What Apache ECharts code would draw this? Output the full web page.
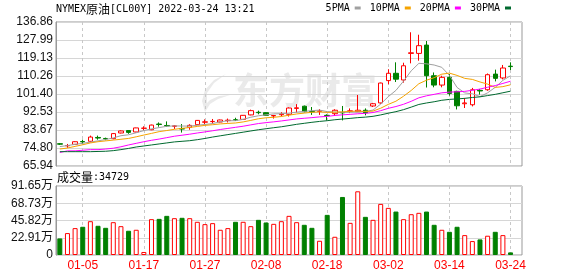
<!DOCTYPE html>
<html><head><meta charset="utf-8">
<script src="https://cdn.jsdelivr.net/npm/echarts@6/dist/echarts.min.js"></script>
<style>html,body{margin:0;padding:0;background:#fff}#c{width:578px;height:276px}</style>
</head><body><div id="c"></div>
<script>
const titleText = 'NYMEX原油[CL00Y] 2022-03-24 13:21';
const volLabel = '成交量:34729';
const dates = ['12-31','01-03','01-04','01-05','01-06','01-07','01-10','01-11','01-12','01-13',
'01-14','01-17','01-18','01-19','01-20','01-21','01-24','01-25','01-26','01-27',
'01-28','01-31','02-01','02-02','02-03','02-04','02-07','02-08','02-09','02-10',
'02-11','02-14','02-15','02-16','02-17','02-18','02-21','02-22','02-23','02-24',
'02-25','02-28','03-01','03-02','03-03','03-04','03-07','03-08','03-09','03-10',
'03-11','03-14','03-15','03-16','03-17','03-18','03-21','03-22','03-23','03-24'];
const tickDates = ['01-05','01-17','01-27','02-08','02-18','03-02','03-14','03-24'];
const opens = [76.9,75.9,76.6,78.0,78.1,80.0,79.5,79.4,82.2,83.4,
82.7,84.5,83.8,86.6,85.9,85.5,84.3,84.97,86.3,87.5,
87.8,87.6,88.3,88.7,88.9,91.1,92.4,92.2,90.6,91.2,
91.4,94.3,95.4,92.8,92.9,90.9,91.7,92.3,92.9,92.7,
93.4,95.5,97.0,108.0,111.6,108.3,121.4,121.4,125.5,110.4,
105.8,109.6,102.7,96.6,96.1,103.2,103.5,111.2,109.3,115.1];
const closes = [76.7,76.0,77.9,77.8,80.2,79.7,79.3,81.9,83.2,82.5,
84.7,84.6,86.1,86.4,85.7,85.7,84.2,85.96,88.4,87.7,
87.9,88.6,88.5,88.6,90.9,93.2,92.2,90.9,90.8,91.5,
94.5,94.6,92.7,92.6,93.0,90.7,93.4,92.1,93.1,93.4,
92.2,96.6,106.8,111.6,108.7,115.3,121.7,125.2,110.4,105.8,
109.6,101.7,95.6,97.0,103.5,102.9,110.9,109.1,114.2,114.9];
const highs = [77.2,76.8,78.1,78.9,80.9,80.9,79.9,82.2,83.5,83.5,
84.8,85.5,86.3,87.4,87.9,86.0,86.6,86.5,88.6,88.9,
89.1,88.8,89.3,89.7,91.0,93.7,93.2,92.4,91.1,92.4,
94.8,96.4,95.7,95.0,93.9,91.4,93.9,95.5,94.3,100.9,
94.3,97.0,107.0,113.6,117.0,116.8,131.8,130.6,127.5,112.0,
110.4,111.2,103.0,99.4,104.4,103.9,111.5,113.4,115.7,117.0];
const lows = [76.3,74.9,76.4,76.9,77.6,78.9,78.6,79.1,82.0,81.8,
82.5,83.5,83.6,85.3,85.3,84.2,82.4,83.8,86.1,86.6,
86.8,87.4,87.4,88.1,88.6,90.9,91.4,90.7,89.3,90.4,
90.3,92.3,92.4,91.1,91.1,88.4,90.6,88.4,92.0,92.5,
90.9,95.0,96.6,106.2,107.3,107.0,116.5,117.8,104.6,104.7,
104.7,100.6,93.8,94.5,95.3,101.1,103.0,107.6,108.6,113.2];
const volumes = [22.0,29.1,35.7,37.5,44.9,38.8,36.1,43.6,38.3,32.2,
33.5,4.0,47.6,48.0,52.0,48.9,49.4,48.9,44.1,41.0,
42.3,33.5,35.7,44.1,44.1,38.3,46.7,43.2,41.4,44.9,
52.0,43.6,40.1,36.1,18.9,53.3,24.2,77.1,42.7,84.6,
50.7,46.7,67.9,62.6,57.7,47.6,54.2,56.0,57.7,40.1,
33.5,30.8,37.5,26.4,18.5,20.7,25.6,30.8,26.4,3.47];
const ma5 = [75.5,76.0,76.6,77.1,77.72,78.32,78.98,79.78,80.86,81.32,
82.32,83.38,84.22,84.86,85.5,85.7,85.62,85.59,85.99,86.39,
86.83,87.71,88.22,88.26,88.9,89.96,90.68,91.16,91.6,91.72,
91.98,92.46,92.82,93.18,93.48,92.72,92.48,92.36,92.46,92.54,
92.84,93.48,96.42,100.12,103.18,107.8,112.82,116.5,116.26,115.68,
114.54,110.54,104.62,101.94,101.48,100.14,101.98,104.68,108.12,110.4];
const ma10 = [74.3,74.8,75.6,76.4,77.3,77.9,78.3,78.7,79.1,79.52,
80.32,81.18,82.0,82.86,83.41,84.01,84.5,84.91,85.43,85.95,
86.27,86.67,86.91,87.13,87.65,88.4,89.2,89.69,89.93,90.31,
90.97,91.57,91.99,92.39,92.6,92.35,92.47,92.59,92.82,93.01,
92.78,92.98,94.39,96.29,97.86,100.32,103.15,106.46,108.19,109.43,
111.17,111.68,110.56,109.1,108.58,107.34,106.26,104.65,105.03,105.94];
const ma20 = [72.6,73.4,73.4,73.7,74.0,74.0,74.3,74.7,75.4,76.3,
77.1,77.9,78.6,79.2,79.9,80.6,81.1,81.6,82.2,82.73,
83.29,83.92,84.45,84.99,85.53,86.2,86.85,87.3,87.68,88.13,
88.62,89.12,89.45,89.76,90.12,90.37,90.83,91.14,91.38,91.66,
91.88,92.28,93.19,94.34,95.23,96.34,97.81,99.53,100.51,101.22,
101.98,102.33,102.48,102.7,103.22,103.83,104.71,105.56,106.61,107.69];
const ma30 = [73.0,73.0,73.0,73.0,73.0,73.1,73.2,73.5,74.0,74.6,
75.3,75.8,76.3,76.8,77.3,77.8,78.1,78.4,78.9,79.5,
80.2,80.8,81.4,82.0,82.6,83.2,83.8,84.3,84.8,85.26,
85.85,86.47,86.97,87.46,87.89,88.25,88.72,89.06,89.39,89.76,
90.01,90.41,91.1,91.94,92.7,93.69,94.94,96.25,96.98,97.58,
98.31,98.74,98.98,99.26,99.68,100.0,100.63,101.23,102.01,102.79];
const priceTicks = [65.94,74.80,83.67,92.53,101.40,110.26,119.13,127.99,136.86];
const volTicks = [0,22.91,45.82,68.73,91.65];
const maNames = ['5PMA','10PMA','20PMA','30PMA'];

const UP = '#ff0000', DOWN = '#008000';
const maColors = ['#a0a0a0','#f5a300','#ff00ff','#00692f'];
const cats = dates.concat(['']);
const showAt = (i) => tickDates.indexOf(cats[i]) >= 0;
const candle = dates.map((d, i) => [opens[i], closes[i], lows[i], highs[i]]);
const volData = volumes.map((v, i) => ({
  value: v,
  itemStyle: closes[i] >= opens[i]
    ? { color: '#ffffff', borderColor: UP, borderWidth: 1 }
    : { color: DOWN, borderColor: DOWN, borderWidth: 1 }
}));
const FONT = 'Liberation Sans';
const MONO = 'DejaVu Sans Mono';
const CJK = 'Noto Sans CJK SC';

const chart = echarts.init(document.getElementById('c'), null, { renderer: 'canvas' });
const gridLine = { color: '#d6d6d6', width: 1, type: 'solid' };
const dashLine = { color: '#c8c8c8', width: 1, type: [3, 3] };
const catAxis = (gi, showLabel) => ({
  type: 'category', gridIndex: gi, data: cats, boundaryGap: true,
  axisLine: { show: false }, axisTick: { show: false },
  axisLabel: { show: showLabel, interval: (i) => showAt(i), color: UP, fontSize: 12, fontFamily: FONT, margin: 5 },
  splitLine: { show: true, interval: (i) => showAt(i), alignWithLabel: true, lineStyle: dashLine }
});
const option = {
  animation: false,
  backgroundColor: '#ffffff',
  grid: [
    { left: 56, right: 56, top: 22, height: 144, show: true, borderColor: '#999', borderWidth: 1 },
    { left: 56, right: 56, top: 186, height: 69, show: true, borderColor: '#999', borderWidth: 1 }
  ],
  legend: {
    top: 3, right: 67, align: 'right', icon: 'rect', itemWidth: 6, itemHeight: 3, itemGap: 9,
    padding: 0,
    textStyle: { fontFamily: MONO, fontSize: 10, color: '#000', padding: [0, 0, 0, 0] },
    data: maNames
  },
  xAxis: [catAxis(0, false), catAxis(1, true)],
  yAxis: [
    {
      type: 'value', gridIndex: 0, min: priceTicks[0], max: priceTicks[priceTicks.length - 1],
      axisLine: { show: true, lineStyle: { color: '#999' } },
      axisTick: { show: false, customValues: priceTicks },
      axisLabel: { customValues: priceTicks, formatter: (v) => v.toFixed(2), color: '#111', fontSize: 12, fontFamily: FONT, margin: 3, hideOverlap: false, showMinLabel: true, showMaxLabel: true },
      splitLine: { show: true, lineStyle: gridLine }
    },
    {
      type: 'value', gridIndex: 1, min: volTicks[0], max: volTicks[volTicks.length - 1],
      axisLine: { show: true, lineStyle: { color: '#999' } },
      axisTick: { show: false, customValues: volTicks },
      axisLabel: { customValues: volTicks, formatter: (v) => v === 0 ? '0' : v.toFixed(2) + '万', color: '#111', fontSize: 12, fontFamily: FONT + ', ' + CJK, margin: 3, hideOverlap: false, showMinLabel: true, showMaxLabel: true },
      splitLine: { show: true, lineStyle: gridLine }
    }
  ],
  graphic: [
    { type: 'text', left: 233, top: 72, z: -1, silent: true,
      style: { text: '东方财富', font: 'bold 36px "Noto Sans CJK SC"', fill: '#eaeaea' } },
    { type: 'polygon', z: -1, silent: true,
      shape: { points: [[226,74],[214,80],[205,90],[202,101],[205,112],[210,104],[218,99],[230,95],[219,96],[210,100],[207,103],[207,93],[214,83]] },
      style: { fill: '#eaeaea' } },
    { type: 'text', left: 56, top: 3, silent: true,
      style: { text: '{a|NYMEX}{b|原油}{a|[CL00Y] 2022-03-24 13:21}',
        rich: { a: { fontFamily: MONO, fontSize: 10, fill: '#000' }, b: { fontFamily: CJK, fontSize: 12, fill: '#000' } } } },
    { type: 'text', left: 57, top: 171, silent: true,
      style: { text: '{b|成交量}{a|:34729}',
        rich: { a: { fontFamily: MONO, fontSize: 10, fill: '#000' }, b: { fontFamily: CJK, fontSize: 12, fill: '#000' } } } }
  ],
  series: [
    { type: 'candlestick', name: 'K', xAxisIndex: 0, yAxisIndex: 0, data: candle, barWidth: 5, z: 2,
      itemStyle: { color: '#ffffff', color0: DOWN, borderColor: UP, borderColor0: DOWN, borderWidth: 1 } },
    ...[ma5, ma10, ma20, ma30].map((arr, k) => ({
      type: 'line', name: maNames[k], xAxisIndex: 0, yAxisIndex: 0, data: arr, z: 3,
      symbol: 'none', showSymbol: false, smooth: false,
      lineStyle: { color: maColors[k], width: 1 }, itemStyle: { color: maColors[k] }
    })),
    { type: 'bar', name: 'VOL', xAxisIndex: 1, yAxisIndex: 1, data: volData, barWidth: 5 }
  ]
};
chart.setOption(option);
</script>
</body></html>
